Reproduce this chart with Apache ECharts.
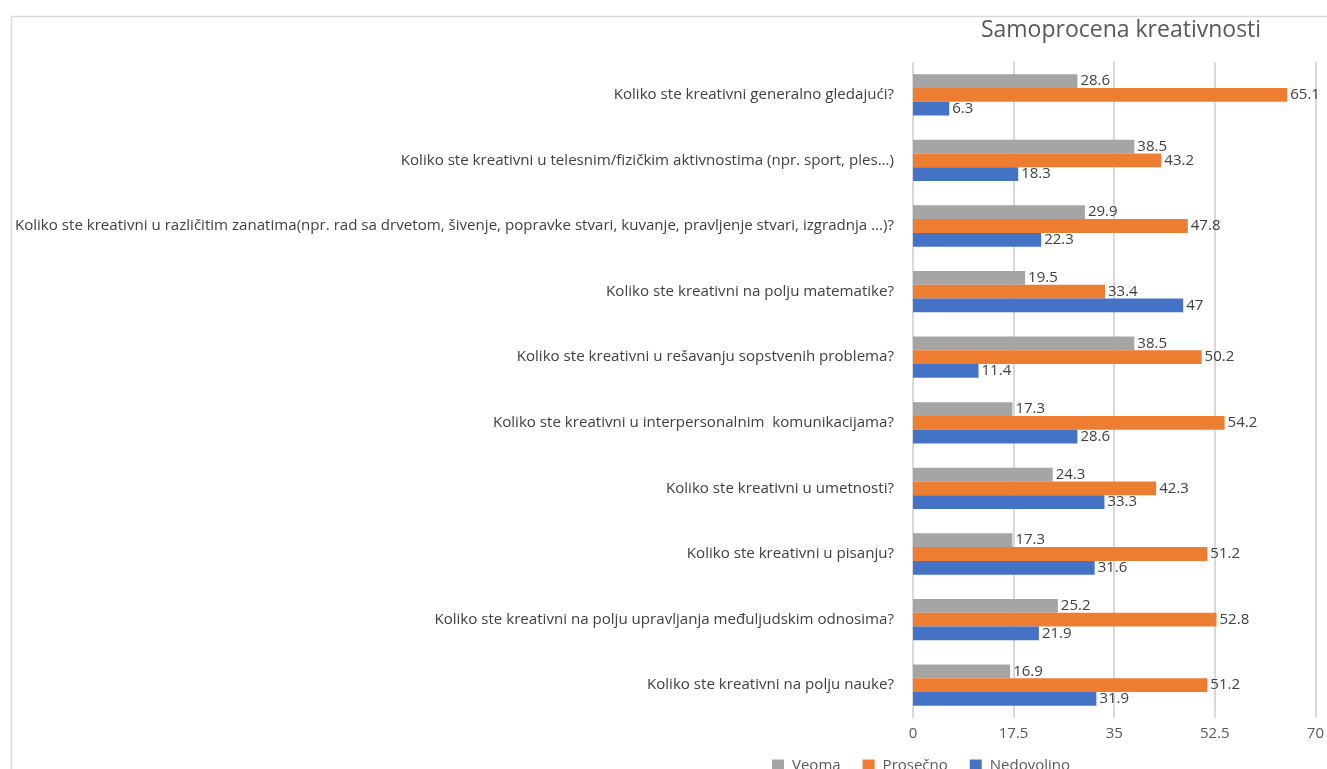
<!DOCTYPE html>
<html>
<head>
<meta charset="utf-8">
<script src="https://cdn.jsdelivr.net/npm/echarts@6/dist/echarts.min.js"></script>
<style>
  html, body { margin: 0; padding: 0; background: #ffffff; }
  #chart { width: 1327px; height: 769px; }
</style>
</head>
<body>
<div id="chart"></div>
<script>
// Survey questions (top to bottom)
const categories = [
  'Koliko ste kreativni generalno gledajući?',
  'Koliko ste kreativni u telesnim/fizičkim aktivnostima (npr. sport, ples...)',
  'Koliko ste kreativni u različitim zanatima(npr. rad sa drvetom, šivenje, popravke stvari, kuvanje, pravljenje stvari, izgradnja ...)?',
  'Koliko ste kreativni na polju matematike?',
  'Koliko ste kreativni u rešavanju sopstvenih problema?',
  'Koliko ste kreativni u interpersonalnim  komunikacijama?',
  'Koliko ste kreativni u umetnosti?',
  'Koliko ste kreativni u pisanju?',
  'Koliko ste kreativni na polju upravljanja međuljudskim odnosima?',
  'Koliko ste kreativni na polju nauke?'
];

// Percentages per answer
const veoma      = [28.6, 38.5, 29.9, 19.5, 38.5, 17.3, 24.3, 17.3, 25.2, 16.9];
const prosecno   = [65.1, 43.2, 47.8, 33.4, 50.2, 54.2, 42.3, 51.2, 52.8, 51.2];
const nedovoljno = [6.3, 18.3, 22.3, 47, 11.4, 28.6, 33.3, 31.6, 21.9, 31.9];

const seriesNames = ['Veoma', 'Prosečno', 'Nedovoljno'];
const xTicks = [0, 17.5, 35, 52.5, 70];

const FONT = '"Open Sans", "Noto Sans", sans-serif';
const colors = ['#A5A5A5', '#ED7D31', '#4472C4'];

const chart = echarts.init(document.getElementById('chart'));

function barSeries(name, data, color) {
  return {
    name: name,
    type: 'bar',
    data: data,
    barGap: '0%',
    barCategoryGap: '37%',
    itemStyle: { color: color },
    label: {
      show: true,
      position: 'right',
      distance: 3,
      color: '#404040',
      fontFamily: FONT,
      fontSize: 15
    },
    emphasis: { disabled: true }
  };
}

chart.setOption({
  animation: false,
  color: colors,
  textStyle: { fontFamily: FONT },
  title: {
    text: 'Samoprocena kreativnosti',
    left: 1116,
    top: 14,
    textAlign: 'center',
    textStyle: { fontFamily: FONT, fontSize: 23, fontWeight: 'normal', color: '#595959' }
  },
  graphic: [{
    type: 'rect',
    left: 9,
    top: 14,
    shape: { width: 1400, height: 800 },
    style: { fill: 'none', stroke: '#d9d9d9', lineWidth: 1.5 },
    silent: true,
    z: -1
  }],
  legend: {
    data: seriesNames,
    left: 767,
    top: 753,
    itemWidth: 12,
    itemHeight: 12,
    itemGap: 22,
    icon: 'rect',
    textStyle: {
      fontFamily: FONT,
      fontSize: 15,
      color: '#595959',
      padding: [0, 0, 0, 3]
    }
  },
  grid: {
    left: 913,
    right: 6,
    top: 62,
    bottom: 51,
    containLabel: false
  },
  xAxis: {
    type: 'value',
    min: 0,
    max: 70,
    interval: 17.5,
    axisLine: { show: false },
    axisTick: { show: false },
    splitLine: { lineStyle: { color: '#d9d9d9', width: 2 } },
    axisLabel: {
      color: '#595959',
      fontFamily: FONT,
      fontSize: 15,
      margin: 8,
      formatter: function (v) {
        return xTicks.indexOf(v) >= 0 ? String(v) : '';
      }
    }
  },
  yAxis: {
    type: 'category',
    data: categories,
    inverse: true,
    axisLine: { show: false },
    axisTick: { show: false },
    axisLabel: {
      color: '#404040',
      fontFamily: FONT,
      fontSize: 15.1,
      margin: 19
    }
  },
  series: [
    barSeries(seriesNames[0], veoma, colors[0]),
    barSeries(seriesNames[1], prosecno, colors[1]),
    barSeries(seriesNames[2], nedovoljno, colors[2])
  ]
});
</script>
</body>
</html>
